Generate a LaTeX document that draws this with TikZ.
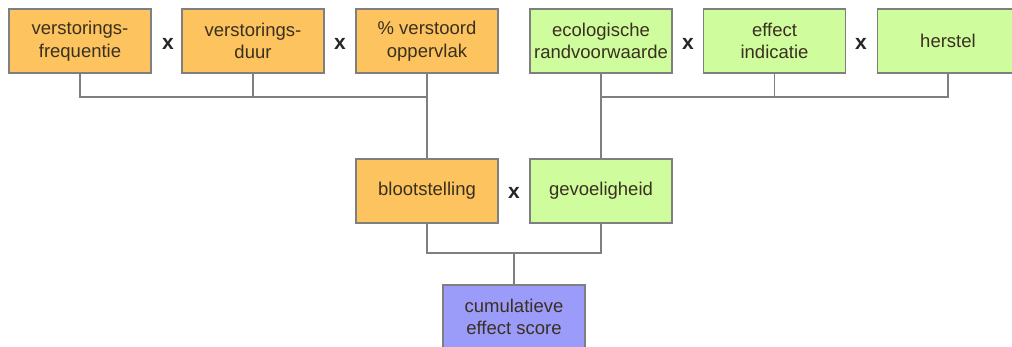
\documentclass[tikz,border=0pt]{standalone}
\usepackage{fontspec}
\setmainfont{Liberation Sans}
\definecolor{orng}{HTML}{FCC35E}
\definecolor{grn}{HTML}{CFFC9C}
\definecolor{blu}{HTML}{9B9BFA}
\definecolor{edge}{HTML}{7F7F7F}
\definecolor{txt}{HTML}{3A3020}
\begin{document}
\begin{tikzpicture}[x=1pt,y=-1pt,
  box/.style={draw=edge,line width=1.2pt,minimum width=142pt,minimum height=64pt,inner sep=0pt,align=center,font=\fontsize{18.5}{22.5}\selectfont,text=txt},
  ob/.style={box,fill=orng},
  gb/.style={box,fill=grn},
  bb/.style={box,fill=blu},
  tms/.style={font=\fontsize{21}{22}\selectfont\bfseries,text=black!85},
  conn/.style={draw=edge,line width=1.2pt}]
\useasboundingbox (0,0) rectangle (1012,347);
\begin{scope}
\clip (0,0) rectangle (1012,347);
\node[ob] (f) at (80,41) {verstorings-\\frequentie};
\node[ob] (d) at (253,41) {verstorings-\\duur};
\node[ob] (o) at (427,41) {\% verstoord\\oppervlak};
\node[gb] (e) at (601,41) {ecologische\\randvoorwaarde};
\node[gb] (i) at (774.5,41) {effect\\indicatie};
\node[gb,minimum width=141pt] (h) at (948,41) {herstel};
\node[ob] (b) at (427,191) {blootstelling};
\node[gb] (g) at (601,191) {gevoeligheid};
\node[bb,minimum height=64pt] (c) at (514,317) {cumulatieve\\effect score};
\node[tms] (x1) at (168,44) {x};
\node[tms] (x2) at (340,44) {x};
\node[tms] (x3) at (688,44) {x};
\node[tms] (x4) at (861,44) {x};
\node[tms] (x5) at (514,193) {x};
\coordinate (l1) at (80,97);
\coordinate (r1) at (948,97);
\coordinate (m1) at (514,253);
\draw[conn] (f.south) -- (l1) -- (o.south |- l1);
\draw[conn] (d.south) -- (d.south |- l1);
\draw[conn] (o.south) -- (b.north);
\draw[conn] (h.south) -- (r1) -- (e.south |- r1);
\draw[conn] (i.south) -- (i.south |- r1);
\draw[conn] (e.south) -- (g.north);
\draw[conn] (b.south) -- (b.south |- m1) -- (g.south |- m1) -- (g.south);
\draw[conn] (m1) -- (c.north);
\end{scope}
\end{tikzpicture}
\end{document}
